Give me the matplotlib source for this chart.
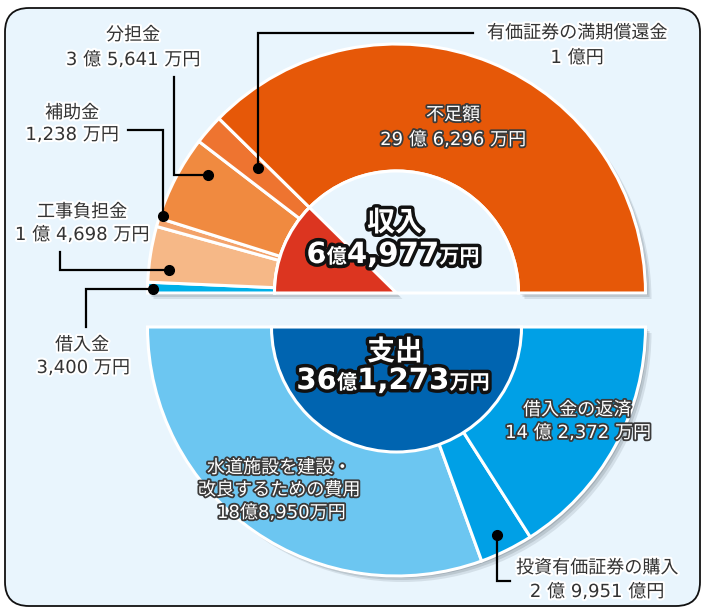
import matplotlib
matplotlib.use('Agg')
import matplotlib.pyplot as plt
import matplotlib.patheffects as pe
from matplotlib.patches import Wedge, FancyBboxPatch
import numpy as np

plt.rcParams['font.family'] = ['DejaVu Sans', 'Noto Sans CJK JP']

# 収入 (upper half), listed from the left end of the arc
income_labels = ['借入金', '工事負担金', '補助金', '分担金', '有価証券の満期償還金', '不足額']
income_amounts = ['3,400 万円', '1 億 4,698 万円', '1,238 万円', '3 億 5,641 万円', '1 億円', '29 億 6,296 万円']
# displayed shares of the half ring (not proportional to amounts)
income_share = [2.5, 13.0, 2.0, 20.0, 7.0, 135.5]
income_colors = ['#00b0e8', '#f6b887', '#f3a26a', '#f08a40', '#ee7430', '#e65808']

# 支出 (lower half), listed from the left end of the arc
spend_labels = ['水道施設を建設・\n改良するための費用', '投資有価証券の購入', '借入金の返済']
spend_amounts = ['18億8,950万円', '2 億 9,951 億円', '14 億 2,372 万円']
spend_share = [110.0, 12.5, 57.5]
spend_colors = ['#6cc6f1', '#00a0e6', '#00a0e6']

income_total = [('6', 21), ('億', 14.5), ('4,977', 21), ('万円', 14.5)]
spend_total = [('36', 21), ('億', 14.5), ('1,273', 21), ('万円', 14.5)]

W, H = 705, 608
fig = plt.figure(figsize=(W / 100, H / 100), dpi=100)
ax = fig.add_axes([0, 0, 1, 1])
ax.set_xlim(0, W)
ax.set_ylim(0, H)
ax.axis('off')


def Y(py):
    return H - py


bg = '#e9f5fd'
ax.add_patch(FancyBboxPatch((5, Y(606)), 695, 598, boxstyle='round,pad=0,rounding_size=24',
                            fc=bg, ec='#111111', lw=1.3, zorder=0))

cx = 396.5
R, r = 249, 122
top_c = (cx, Y(293))
bot_c = (cx, Y(327))


def shadow(center, rad, t1, t2, width=None):
    for k, a in zip([2, 4, 6], [0.25, 0.2, 0.15]):
        ax.add_patch(Wedge((center[0] + k, center[1] - k), rad, t1, t2, width=width,
                           fc='#5a6670', ec='none', alpha=a, zorder=1))


# upper half ring
shadow(top_c, R, 0, 180, width=R - r)
edges = np.concatenate([[0], np.cumsum(income_share)])
edges = edges / edges[-1] * 180
for i, c in enumerate(income_colors):
    ax.add_patch(Wedge(top_c, R, 180 - edges[i + 1], 180 - edges[i], width=R - r,
                       fc=c, ec='white', lw=2.2, zorder=2))
ax.add_patch(Wedge(top_c, r, 0, 180, fc=bg, ec='white', lw=2.2, zorder=2))
income_span = edges[-2]
shadow(top_c, r, 180 - income_span, 180)
ax.add_patch(Wedge(top_c, r, 180 - income_span, 180, fc='#dc3520', ec='white', lw=2.2, zorder=3))

# lower half ring
shadow(bot_c, R, 180, 360, width=R - r)
edges = np.concatenate([[0], np.cumsum(spend_share)])
edges = edges / edges[-1] * 180
for i, c in enumerate(spend_colors):
    ax.add_patch(Wedge(bot_c, R, 180 + edges[i], 180 + edges[i + 1], width=R - r,
                       fc=c, ec='white', lw=2.2, zorder=2))
shadow(bot_c, r + 3, 180, 360)
ax.add_patch(Wedge(bot_c, r + 3, 180, 360, fc='#0064b0', ec='white', lw=2.2, zorder=3))

dark_fx = [pe.withStroke(linewidth=3, foreground='white')]
light_fx = [pe.withStroke(linewidth=2.6, foreground='#3a3a3a')]
big_fx = [pe.withStroke(linewidth=5, foreground='#111111')]


def label(x, y, s, dark=True, size=13):
    ax.text(x, Y(y), s, ha='center', va='center', fontsize=size,
            color='#333333' if dark else 'white',
            path_effects=dark_fx if dark else light_fx, zorder=6, linespacing=1.3)


def run_line(x, y, runs):
    rend = fig.canvas.get_renderer()
    texts, widths = [], []
    for s, size in runs:
        t = ax.text(0, Y(y), s, fontsize=size, fontweight='bold', color='white',
                    ha='left', va='baseline', path_effects=big_fx, zorder=7)
        texts.append(t)
        widths.append(t.get_window_extent(rend).width)
    x0 = x - sum(widths) / 2
    for t, w in zip(texts, widths):
        t.set_x(x0)
        x0 += w


# leader lines
leaders = {
    '分担金': [(174, 77), (174, 175), (208, 175)],
    '補助金': [(128, 130), (163, 130), (163, 216)],
    '有価証券の満期償還金': [(473, 33), (258, 33), (258, 168)],
    '工事負担金': [(60, 252), (60, 270), (169, 270)],
    '借入金': [(86, 327), (86, 289), (153, 289)],
    '投資有価証券の購入': [(510, 581), (497, 581), (497, 535)],
}
for pts in leaders.values():
    xs = [p[0] for p in pts]
    ys = [Y(p[1]) for p in pts]
    ax.plot(xs, ys, color='black', lw=1.6, zorder=5, solid_joinstyle='miter')
    ax.plot(xs[-1], ys[-1], 'o', color='black', ms=7, zorder=5)

# outside labels (name, amount)
label(82, 345, income_labels[0]); label(83, 368, income_amounts[0])
label(82, 212, income_labels[1]); label(82, 235, income_amounts[1])
label(72, 113, income_labels[2]); label(72, 135, income_amounts[2])
label(133, 35, income_labels[3]); label(133, 60, income_amounts[3])
label(577, 33, income_labels[4]); label(577, 58, income_amounts[4])
label(453, 115, income_labels[5], dark=False); label(453, 140, income_amounts[5], dark=False)

label(279, 479, spend_labels[0], dark=False); label(281, 513, spend_amounts[0], dark=False)
label(597, 568, spend_labels[1]); label(597, 592, spend_amounts[1])
label(577, 410, spend_labels[2], dark=False); label(578, 433, spend_amounts[2], dark=False)

# centre totals
ax.text(395, Y(223), '収入', ha='center', va='center', fontsize=20, fontweight='bold',
        color='white', path_effects=big_fx, zorder=7)
run_line(393, 263, income_total)
ax.text(395, Y(352), '支出', ha='center', va='center', fontsize=20, fontweight='bold',
        color='white', path_effects=big_fx, zorder=7)
run_line(393, 389, spend_total)

fig.savefig('out.png', dpi=100, facecolor='white')
